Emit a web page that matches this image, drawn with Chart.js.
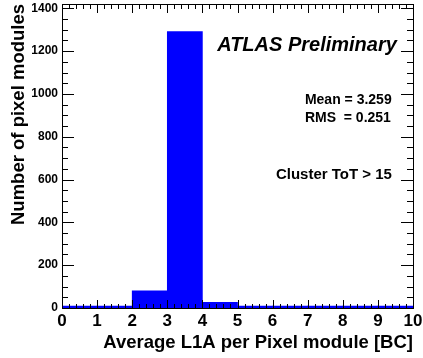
<!DOCTYPE html>
<html>
<head>
<meta charset="utf-8">
<script src="https://cdn.jsdelivr.net/npm/chart.js@4"></script>
<style>
  html, body { margin: 0; padding: 0; background: #fff; }
  canvas { display: block; }
</style>
</head>
<body>
<canvas id="hist" width="423" height="358"></canvas>
<script>
// histogram bins (centres, width 1 BC) and counts
const binCenters = [0.5, 1.5, 2.5, 3.5, 4.5, 5.5, 6.5, 7.5, 8.5, 9.5];
const moduleCounts = [0, 0, 80, 1291, 27, 0, 0, 0, 0, 0];
const yTickValues = [0, 200, 400, 600, 800, 1000, 1200, 1400];
const xTitle = 'Average L1A per Pixel module [BC]';
const yTitle = 'Number of pixel modules';

const FONT = '"Liberation Sans", Arial, Helvetica, sans-serif';

// ROOT style frame with ticks on all four sides, pointing inward
const frameTicks = {
    id: 'frameTicks',
    afterDatasetsDraw(chart) {
        const { ctx, chartArea: a, scales: { x, y } } = chart;
        ctx.save();
        ctx.strokeStyle = '#000';
        ctx.lineWidth = 1;
        ctx.beginPath();
        for (let i = 0; i <= 50; i++) {
            const px = Math.round(x.getPixelForValue(i / 5)) + 0.5;
            const major = i % 5 === 0;
            ctx.moveTo(px, a.bottom);
            ctx.lineTo(px, a.bottom - (major ? 8 : 4));
            ctx.moveTo(px, a.top);
            ctx.lineTo(px, a.top + (major ? 9 : 5));
        }
        for (let v = 0; v <= y.max; v += 50) {
            const py = Math.round(y.getPixelForValue(v)) + 0.5;
            const major = v % 200 === 0;
            ctx.moveTo(a.left, py);
            ctx.lineTo(a.left + (major ? 12 : 6), py);
            ctx.moveTo(a.right, py);
            ctx.lineTo(a.right - (major ? 12 : 6), py);
        }
        ctx.stroke();
        ctx.strokeRect(Math.round(a.left) + 0.5, Math.round(a.top) + 0.5,
            Math.round(a.right - a.left), Math.round(a.bottom - a.top));

        // text labels placed in data coordinates
        ctx.fillStyle = '#000';
        ctx.textBaseline = 'middle';
        ctx.font = 'italic bold 20px ' + FONT;
        ctx.textAlign = 'right';
        ctx.fillText('ATLAS Preliminary', x.getPixelForValue(9.54), y.getPixelForValue(1226));
        ctx.font = 'bold 14px ' + FONT;
        ctx.textAlign = 'left';
        ctx.fillText('Mean = 3.259', x.getPixelForValue(6.92), y.getPixelForValue(969));
        ctx.fillText('RMS  = 0.251', x.getPixelForValue(6.92), y.getPixelForValue(885));
        ctx.font = 'bold 15px ' + FONT;
        ctx.textAlign = 'right';
        ctx.fillText('Cluster ToT > 15', x.getPixelForValue(9.40), y.getPixelForValue(623));
        ctx.restore();
    }
};

new Chart(document.getElementById('hist'), {
    type: 'bar',
    data: {
        datasets: [{
            data: binCenters.map((c, i) => ({ x: c, y: moduleCounts[i] })),
            backgroundColor: '#0000ff',
            borderWidth: 0,
            barPercentage: 1,
            categoryPercentage: 1,
            minBarLength: 2
        }]
    },
    options: {
        responsive: false,
        animation: false,
        devicePixelRatio: 1,
        layout: { padding: { top: 4, right: 10, left: 0, bottom: 0 } },
        plugins: { legend: { display: false }, tooltip: { enabled: false } },
        scales: {
            x: {
                type: 'linear',
                min: 0,
                max: 10,
                offset: false,
                grid: { display: false, drawTicks: false },
                border: { display: false },
                ticks: {
                    stepSize: 1,
                    autoSkip: false,
                    maxRotation: 0,
                    padding: 3,
                    color: '#000',
                    font: { family: FONT, size: 17, weight: 'bold' }
                },
                title: {
                    display: true,
                    text: xTitle,
                    align: 'end',
                    color: '#000',
                    font: { family: FONT, size: 18.5, weight: 'bold' },
                    padding: { top: 0, bottom: 4 }
                },
                afterFit(scale) {
                    scale.height = 50;
                    scale.paddingLeft = 0;
                    scale.paddingRight = 0;
                }
            },
            y: {
                min: 0,
                max: 1420,
                grid: { display: false, drawTicks: false },
                border: { display: false },
                afterBuildTicks(scale) {
                    scale.ticks = yTickValues.map(v => ({ value: v }));
                },
                ticks: {
                    padding: 4,
                    color: '#000',
                    font: { family: FONT, size: 12, weight: 'bold' },
                    callback: v => String(v)
                },
                title: {
                    display: true,
                    text: yTitle,
                    align: 'end',
                    color: '#000',
                    font: { family: FONT, size: 18.5, weight: 'bold' },
                    padding: { top: 8, bottom: 0 }
                },
                afterFit(scale) {
                    scale.width = 62;
                    scale.paddingTop = 0;
                    scale.paddingBottom = 0;
                }
            }
        }
    },
    plugins: [frameTicks]
});
</script>
</body>
</html>
